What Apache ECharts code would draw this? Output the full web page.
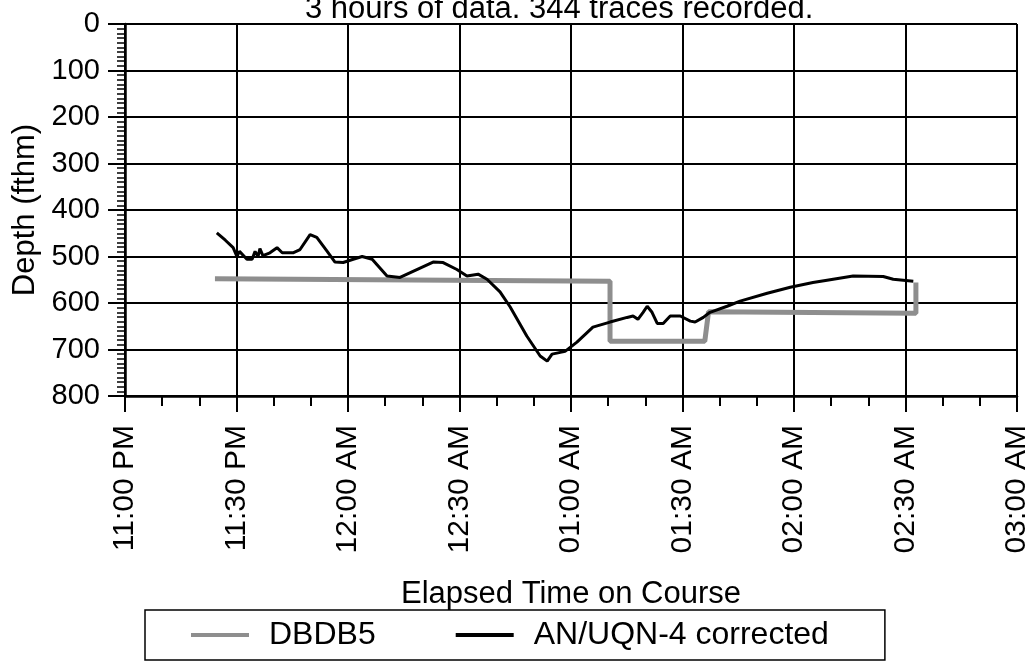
<!DOCTYPE html>
<html>
<head>
<meta charset="utf-8">
<script src="https://cdn.jsdelivr.net/npm/echarts@6/dist/echarts.min.js"></script>
<style>
  html, body { margin: 0; padding: 0; background: #fff; }
  #chart { width: 1034px; height: 664px; }
</style>
</head>
<body>
<div id="chart"></div>
<script>
// x values are minutes after 11:00 PM
const tickLabels = ['11:00 PM', '11:30 PM', '12:00 AM', '12:30 AM', '01:00 AM', '01:30 AM', '02:00 AM', '02:30 AM', '03:00 AM']

const dbdbTime = [24.2, 130.5, 130.5, 156.0, 157.0, 212.8, 212.8]
const dbdbDepth = [548, 553, 682, 682, 619, 622, 556]

const uqnTime = [24.7, 27.0, 29.1, 30.1, 30.8, 32.8, 34.2, 35.0, 35.8, 36.3, 37.1, 39.0, 40.9, 42.3, 45.2, 47.1, 49.8, 51.6, 54.4, 56.5,
  58.7, 61.4, 63.8, 66.5, 70.5, 74.0, 77.5, 82.9, 85.6, 89.3, 92.0, 95.0, 97.4, 100.9, 103.6, 108.1, 111.7, 113.6, 114.9, 118.4,
  121.6, 125.9, 130.5, 135.1, 136.7, 138.0, 139.4, 140.5, 141.8, 143.2, 144.8, 146.7, 149.4, 152.1, 153.4, 155.6, 157.4, 162.0, 165.5, 172.8,
  179.0, 185.1, 188.9, 195.9, 204.0, 206.7, 212.1]
const uqnDepth = [449, 465, 481, 500, 489, 506, 506, 489, 500, 483, 498, 492, 481, 492, 492, 485, 453, 459, 489, 512,
  513, 506, 500, 506, 542, 545, 532, 512, 513, 528, 542, 538, 549, 576, 608, 671, 714, 725, 710, 704,
  684, 652, 641, 631, 628, 635, 620, 607, 620, 644, 644, 628, 628, 639, 641, 631, 620, 607, 596, 579,
  566, 556, 551, 542, 543, 549, 553]

const font = "'Liberation Sans', Arial, sans-serif"
const zip = (xs, ys) => xs.map((x, i) => [x, ys[i]])

const chart = echarts.init(document.getElementById('chart'))
chart.setOption({
  animation: false,
  textStyle: { fontFamily: font, color: '#000' },
  title: {
    text: '3 hours of data. 344 traces recorded.',
    left: 300, top: -11,
    textStyle: { fontFamily: font, fontSize: 31, fontWeight: 'normal', color: '#000' }
  },
  grid: { left: 125, right: 17, top: 24, bottom: 268 },
  legend: {
    left: 145, top: 610,
    padding: [9, 56, 9, 46],
    borderColor: '#000', borderWidth: 1.5,
    icon: 'rect', itemWidth: 58, itemHeight: 4, itemGap: 80,
    textStyle: { fontFamily: font, fontSize: 32, color: '#000', lineHeight: 32, padding: [0, 0, 0, 15] },
    data: ['DBDB5', 'AN/UQN-4 corrected']
  },
  xAxis: {
    type: 'value', min: 0, max: 240, interval: 30,
    name: 'Elapsed Time on Course', nameLocation: 'middle', nameGap: 183,
    nameTextStyle: { fontFamily: font, fontSize: 31, color: '#000' },
    axisLine: { show: true, onZero: false, lineStyle: { color: '#000', width: 2.5 } },
    axisTick: { show: true, length: 16, lineStyle: { color: '#000', width: 2 } },
    minorTick: { show: true, splitNumber: 3, length: 10, lineStyle: { color: '#000', width: 2 } },
    axisLabel: { rotate: 90, margin: 29, fontSize: 30, color: '#000', fontFamily: font, formatter: v => tickLabels[Math.round(v / 30)] },
    splitLine: { show: true, lineStyle: { color: '#000', width: 2 } }
  },
  yAxis: {
    type: 'value', inverse: true, min: 0, max: 800, interval: 100,
    name: 'Depth (fthm)', nameLocation: 'middle', nameGap: 82,
    nameTextStyle: { fontFamily: font, fontSize: 31, color: '#000' },
    axisLine: { show: true, onZero: false, lineStyle: { color: '#000', width: 2.5 } },
    axisTick: { show: true, length: 17, lineStyle: { color: '#000', width: 2 } },
    minorTick: { show: true, splitNumber: 10, length: 8, lineStyle: { color: '#000', width: 1.5 } },
    axisLabel: { margin: 25, fontSize: 29, color: '#000', fontFamily: font },
    splitLine: { show: true, lineStyle: { color: '#000', width: 2 } }
  },
  series: [
    {
      name: 'DBDB5', type: 'line', data: zip(dbdbTime, dbdbDepth),
      symbol: 'none', lineStyle: { color: '#8e8e8e', width: 5 }, itemStyle: { color: '#8e8e8e' }
    },
    {
      name: 'AN/UQN-4 corrected', type: 'line', data: zip(uqnTime, uqnDepth),
      symbol: 'none', lineStyle: { color: '#000', width: 3 }, itemStyle: { color: '#000' }
    }
  ]
})
</script>
</body>
</html>
